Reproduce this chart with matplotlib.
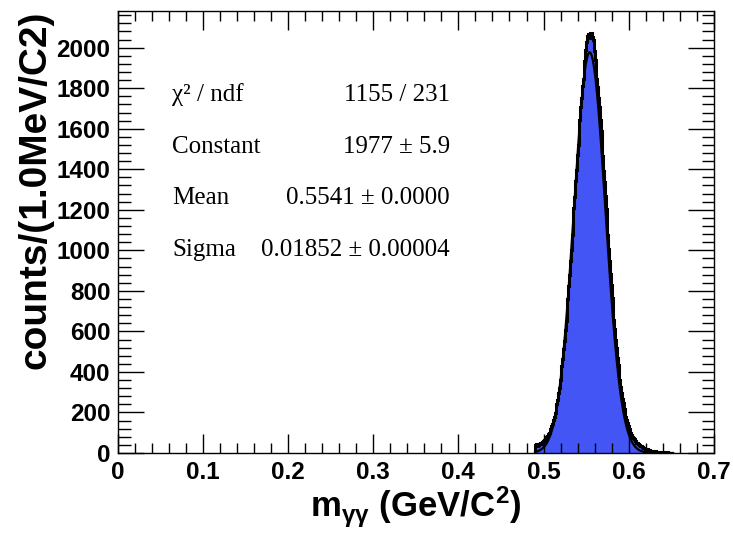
import numpy as np
import matplotlib
matplotlib.use("Agg")
import matplotlib.pyplot as plt
from matplotlib.ticker import MultipleLocator

# histogram: 1 MeV bins starting at 0.490 GeV
bin_start = 0.490
bin_width = 0.001
counts = [
    38, 42, 36, 45, 40, 44, 48, 46, 53, 58, 62, 66, 71, 78, 84, 92, 99, 108, 118, 131,
    145, 162, 176, 199, 215, 243, 262, 295, 320, 358, 386, 431, 465, 514, 552, 608,
    651, 712, 760, 826, 878, 948, 1002, 1077, 1131, 1208, 1263, 1340,
    1394, 1469, 1521, 1592, 1641, 1708, 1750, 1811, 1846, 1897, 1935, 1990,
    2030, 2058, 2066, 2049, 2077, 2061, 2070, 2052, 2036,
    1985, 1940, 1898, 1845, 1808, 1750, 1706, 1641, 1590, 1522, 1466, 1393, 1336,
    1266, 1204, 1135, 1074, 1006, 947, 882, 827, 765, 714, 657, 610, 558, 517, 470,
    434, 392, 361, 325, 298, 268, 246, 219, 202, 180, 165, 147, 135, 119, 110, 97,
    90, 80, 72, 67, 59, 56, 49, 47, 42, 40, 37, 34, 31, 28, 27, 24, 22, 20, 18, 17,
    15, 13, 12, 11, 10, 10, 9, 8, 8, 7, 7, 6, 6, 5, 5, 5, 4, 4, 4, 3, 3, 3, 3, 2, 2,
    2, 2, 1, 1,
]

# gaussian fit parameters (stat box)
fit_const = 1977
fit_mean = 0.5541
fit_sigma = 0.01852
fit_range = (0.490, 0.652)

stat_names = ["χ² / ndf", "Constant", "Mean", "Sigma"]
stat_values = ["1155 / 231", "1977 ± 5.9", "0.5541 ± 0.0000", "0.01852 ± 0.00004"]

plt.rcParams['mathtext.default'] = 'regular'

fig = plt.figure(figsize=(7.33, 5.33), dpi=100)
ax = fig.add_axes([117.5 / 733, 80 / 533, 596.5 / 733, 442 / 533])

edges = bin_start + bin_width * np.arange(len(counts) + 1)
ax.stairs(counts, edges, fill=True, color='#4355f5', baseline=0)
ax.stairs(counts, edges, color='black', lw=2.2, baseline=0)

xf = np.linspace(fit_range[0], fit_range[1], 500)
yf = fit_const * np.exp(-0.5 * ((xf - fit_mean) / fit_sigma) ** 2)
ax.plot(xf, yf, color='black', lw=1.6)

ax.set_xlim(0, 0.7)
ax.set_ylim(0, max(counts) * 1.05)

ax.xaxis.set_major_locator(MultipleLocator(0.1))
ax.xaxis.set_minor_locator(MultipleLocator(0.02))
ax.yaxis.set_major_locator(MultipleLocator(200))
ax.yaxis.set_minor_locator(MultipleLocator(40))
ax.xaxis.set_major_formatter(plt.FuncFormatter(lambda v, p: '0' if abs(v) < 1e-9 else f'{v:.1f}'))

ax.tick_params(which='both', direction='in', top=True, right=True, width=1.0)
ax.tick_params(axis='x', which='major', length=14, pad=6)
ax.tick_params(axis='x', which='minor', length=7)
ax.tick_params(axis='y', which='major', length=19, pad=5)
ax.tick_params(axis='y', which='minor', length=9)
for lab in ax.get_xticklabels() + ax.get_yticklabels():
    lab.set_fontfamily('Liberation Sans')
    lab.set_fontweight('bold')
    lab.set_fontsize(17.5)
for s in ax.spines.values():
    s.set_linewidth(1.0)

ax.set_xlabel('m$_{γγ}$ (GeV/C$^{2}$)', fontfamily='Liberation Sans',
              fontweight='bold', fontsize=25, labelpad=0)
ax.set_ylabel('counts/(1.0MeV/C2)', fontfamily='Liberation Sans',
              fontweight='bold', fontsize=28, loc='top')
ax.yaxis.set_label_coords(-0.108, 1.0)

rows_y = [95, 147, 198, 250]
for name, val, py in zip(stat_names, stat_values, rows_y):
    fig.text(172 / 733, 1 - py / 533, name, fontfamily='Liberation Serif',
             fontsize=18, ha='left', va='center')
    fig.text(450 / 733, 1 - py / 533, val, fontfamily='Liberation Serif',
             fontsize=18, ha='right', va='center')

fig.savefig('out.png', dpi=100)
